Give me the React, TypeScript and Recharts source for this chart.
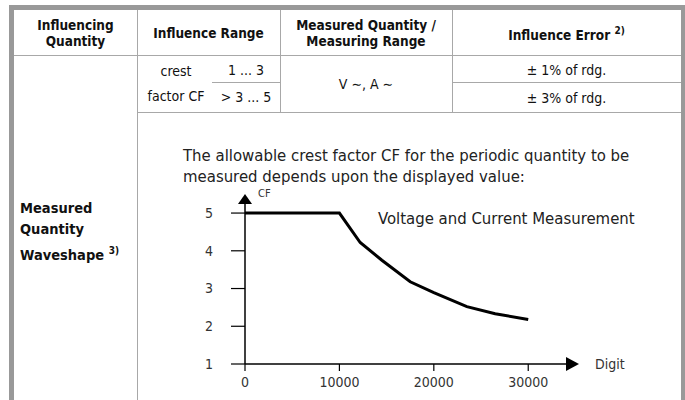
import React from 'react';
import {
  LineChart,
  Line,
  XAxis,
  YAxis,
  ReferenceDot,
} from 'recharts';

// crest factor curve
const digits = [0, 10000, 12200, 14500, 17500, 20000, 23500, 26500, 30000];
const crestFactor = [5, 5, 4.22, 3.75, 3.18, 2.89, 2.52, 2.33, 2.18];
const xTicks = [0, 10000, 20000, 30000];
const yTicks = [1, 2, 3, 4, 5];
const X_MAX = 34000;
const Y_MAX = 5.24;

const data = digits.map((d, i) => ({ digit: d, cf: crestFactor[i] }));

const FONT =
  '"Liberation Sans Narrow", "DejaVu Sans Condensed", "Liberation Sans", Arial, sans-serif';
const LINE = '#a8a8a8';
const FRAME = '#999999';

const UpArrow = (props: any) => {
  const { cx, cy } = props;
  return (
    <g>
      <polygon points={`${cx - 7},${cy} ${cx + 7},${cy} ${cx},${cy - 10}`} fill="#000" />
      <text x={cx + 13} y={cy - 7} fontSize={11} fontFamily={FONT} fill="#333">
        CF
      </text>
    </g>
  );
};

const RightArrow = (props: any) => {
  const { cx, cy } = props;
  return (
    <g>
      <polygon points={`${cx},${cy - 7} ${cx},${cy + 7} ${cx + 13},${cy}`} fill="#000" />
      <text x={cx + 29} y={cy + 5} fontSize={14} fontFamily={FONT} fill="#333">
        Digit
      </text>
    </g>
  );
};

const abs = (left: number, top: number, w: number, h: number, extra: React.CSSProperties = {}) =>
  ({ position: 'absolute', left, top, width: w, height: h, ...extra }) as React.CSSProperties;

const cell = (left: number, top: number, w: number, h: number, bold = false): React.CSSProperties => ({
  position: 'absolute',
  left,
  top,
  width: w,
  height: h,
  display: 'flex',
  alignItems: 'center',
  justifyContent: 'center',
  textAlign: 'center',
  fontWeight: bold ? 700 : 400,
  fontSize: bold ? 13.5 : 14,
  lineHeight: '16px',
  color: '#111',
});

export default function App() {
  return (
    <div
      style={{
        position: 'absolute',
        left: 0,
        top: 0,
        width: 685,
        height: 400,
        overflow: 'hidden',
        background: '#fff',
        fontFamily: FONT,
      }}
    >
      {/* grey frame */}
      <div style={abs(9, 5, 676, 5, { background: FRAME })} />
      <div style={abs(9, 5, 5, 395, { background: FRAME })} />
      <div style={abs(681, 5, 4, 395, { background: FRAME })} />

      {/* table rules */}
      <div style={abs(14, 55, 667, 1, { background: LINE })} />
      <div style={abs(137, 112, 544, 1, { background: LINE })} />
      <div style={abs(212, 82, 68, 1, { background: LINE })} />
      <div style={abs(452, 82, 229, 1, { background: LINE })} />
      <div style={abs(137, 10, 1, 390, { background: LINE })} />
      <div style={abs(280, 10, 1, 102, { background: LINE })} />
      <div style={abs(452, 10, 1, 102, { background: LINE })} />

      {/* header */}
      <div style={cell(14, 10, 123, 45, true)}>
        Influencing
        <br />
        Quantity
      </div>
      <div style={cell(137, 10, 143, 45, true)}>Influence Range</div>
      <div style={cell(280, 10, 172, 45, true)}>
        Measured Quantity /
        <br />
        Measuring Range
      </div>
      <div style={cell(452, 10, 229, 45, true)}>
        <span>
          Influence Error <sup style={{ fontSize: 10, verticalAlign: 6 }}>2)</sup>
        </span>
      </div>

      {/* crest factor row */}
      <div style={cell(140, 60, 72, 22)}>crest</div>
      <div style={cell(140, 85, 72, 22)}>factor CF</div>
      <div style={cell(212, 58, 68, 24)}>1 ... 3</div>
      <div style={cell(212, 85, 68, 24)}>&gt; 3 ... 5</div>
      <div style={cell(280, 56, 172, 56)}>V ∼, A ∼</div>
      <div style={cell(452, 57, 229, 25)}>± 1% of rdg.</div>
      <div style={cell(452, 85, 229, 25)}>± 3% of rdg.</div>

      {/* left column label */}
      <div
        style={abs(20, 198, 115, 64, {
          fontWeight: 700,
          fontSize: 14.5,
          lineHeight: '21px',
          color: '#111',
        })}
      >
        Measured
        <br />
        Quantity
        <br />
        Waveshape <sup style={{ fontSize: 10, verticalAlign: 6 }}>3)</sup>
      </div>

      {/* intro text */}
      <div style={abs(183, 145, 480, 44, { fontSize: 16.6, lineHeight: '21px', color: '#222' })}>
        The allowable crest factor CF for the periodic quantity to be
        <br />
        measured depends upon the displayed value:
      </div>
      <div style={abs(378, 208, 300, 22, { fontSize: 16.6, lineHeight: '21px', color: '#222' })}>
        Voltage and Current Measurement
      </div>

      <div style={abs(137, 113, 543, 287)}>
        <LineChart
          width={543}
          height={287}
          data={data}
          margin={{ top: 91, right: 114, bottom: 6, left: 48 }}
        >
          <XAxis
            type="number"
            dataKey="digit"
            domain={[0, X_MAX]}
            ticks={xTicks}
            allowDataOverflow
            height={30}
            tickSize={7}
            tickMargin={6}
            axisLine={{ stroke: '#000', strokeWidth: 1.5 }}
            tickLine={{ stroke: '#000', strokeWidth: 1.2 }}
            tick={{ fill: '#333', fontSize: 14, fontFamily: FONT }}
          />
          <YAxis
            type="number"
            domain={[1, Y_MAX]}
            ticks={yTicks}
            allowDataOverflow
            width={60}
            tickSize={14}
            tickMargin={18}
            axisLine={{ stroke: '#000', strokeWidth: 1.5 }}
            tickLine={{ stroke: '#000', strokeWidth: 1.2 }}
            tick={{ fill: '#333', fontSize: 14, fontFamily: FONT }}
          />
          <Line
            type="linear"
            dataKey="cf"
            stroke="#000"
            strokeWidth={3}
            dot={false}
            isAnimationActive={false}
          />
          <ReferenceDot x={0} y={Y_MAX} ifOverflow="visible" shape={UpArrow} />
          <ReferenceDot x={X_MAX} y={1} ifOverflow="visible" shape={RightArrow} />
        </LineChart>
      </div>
    </div>
  );
}
